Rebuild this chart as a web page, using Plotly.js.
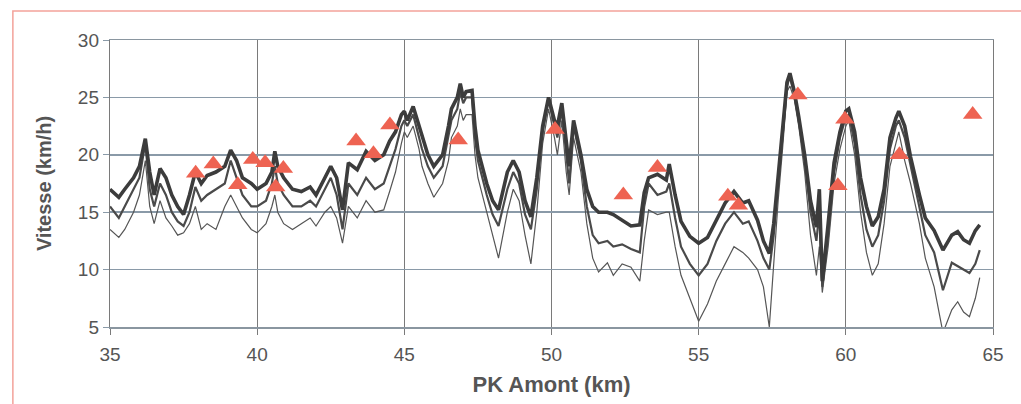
<!DOCTYPE html>
<html>
<head>
<meta charset="utf-8">
<script src="https://cdn.plot.ly/plotly-3.0.1.min.js"></script>
<style>html,body{margin:0;padding:0;background:#fff;}#chart{width:1021px;height:404px;}</style>
</head>
<body>
<div id="chart"></div>
<script>
// PK Amont (km)
const pk = [
  35.0,35.3,35.5,35.8,36.0,36.2,36.35,36.5,36.7,36.9,
  37.1,37.3,37.5,37.7,37.9,38.1,38.3,38.6,38.9,39.1,
  39.3,39.5,39.8,40.0,40.3,40.5,40.6,40.7,40.9,41.2,
  41.5,41.8,42.0,42.3,42.5,42.7,42.9,43.1,43.4,43.7,
  44.0,44.3,44.5,44.7,44.9,45.0,45.1,45.3,45.5,45.6,
  45.8,46.0,46.3,46.5,46.6,46.8,46.9,47.0,47.1,47.3,
  47.4,47.5,47.8,48.0,48.2,48.5,48.7,48.9,49.1,49.3,
  49.5,49.7,49.9,50.1,50.2,50.35,50.5,50.6,50.75,51.0,
  51.2,51.4,51.6,51.9,52.1,52.4,52.7,53.0,53.15,53.3,
  53.6,53.9,54.0,54.2,54.4,54.7,55.0,55.3,55.6,55.9,
  56.2,56.5,56.7,57.0,57.2,57.4,57.55,57.7,57.85,58.0,
  58.1,58.25,58.4,58.6,58.8,59.0,59.1,59.2,59.4,59.6,
  59.8,60.0,60.1,60.3,60.5,60.7,60.9,61.1,61.3,61.5,
  61.7,61.8,62.0,62.2,62.5,62.7,63.0,63.3,63.6,63.8,
  64.0,64.2,64.4,64.55
];
// Vitesse (km/h) - thick upper curve
const vitesseHaute = [
  17.0,16.3,17.0,18.0,19.0,21.4,18.5,16.5,18.8,18.0,
  16.5,15.5,14.8,16.5,18.5,17.5,18.2,18.5,19.0,20.4,
  19.5,18.0,17.5,17.0,17.5,18.5,20.3,19.0,18.0,17.0,
  16.8,17.2,16.5,18.0,19.0,18.0,15.2,19.3,18.7,20.3,
  19.5,20.0,21.2,22.0,23.5,23.8,23.0,24.2,22.5,21.5,
  20.0,19.0,20.0,22.5,24.0,25.0,26.2,25.0,25.5,25.6,
  22.5,20.4,17.5,16.0,15.2,18.5,19.5,18.5,16.0,14.6,
  18.0,22.5,25.0,23.0,22.5,24.5,21.0,19.0,23.0,20.0,
  17.0,15.5,15.0,15.0,14.8,14.3,13.8,13.9,16.7,18.0,
  18.3,17.8,19.2,16.5,14.2,12.9,12.3,12.8,14.3,15.8,
  16.8,15.8,16.0,14.3,12.5,11.4,14.0,18.0,22.0,26.3,
  27.1,25.5,23.3,20.0,16.0,13.7,17.0,9.0,14.0,19.3,
  22.0,23.8,24.0,22.0,18.0,15.5,13.8,14.6,17.0,21.5,
  23.2,23.8,22.5,19.8,16.5,14.5,13.4,11.7,13.0,13.3,
  12.6,12.3,13.4,13.9
];
// Vitesse (km/h) - middle curve
const vitesseMoyenne = [
  15.5,14.5,15.5,17.0,18.0,21.0,17.0,15.5,17.5,16.5,
  15.0,14.2,13.8,15.0,17.2,16.0,16.5,17.0,17.5,19.5,
  18.0,16.5,15.5,15.5,16.0,17.5,19.0,17.5,16.5,15.5,
  15.5,16.0,15.5,17.0,18.0,16.5,13.5,17.5,16.5,18.0,
  17.0,17.5,19.0,20.5,22.5,23.0,22.5,23.5,21.5,20.5,
  19.0,18.0,19.0,21.5,23.0,24.0,25.5,24.5,25.0,25.0,
  21.5,19.5,16.5,14.8,13.8,17.0,18.5,17.5,14.8,13.5,
  17.0,22.0,24.8,22.5,21.5,24.0,20.0,17.5,22.5,19.5,
  15.5,13.0,12.3,12.5,12.0,12.2,11.8,11.5,15.5,17.5,
  16.5,16.8,17.5,14.5,12.0,10.5,9.5,10.5,12.5,14.0,
  15.0,14.0,14.2,12.5,11.0,10.0,13.0,17.5,21.5,26.0,
  26.8,25.3,23.0,19.5,15.0,12.5,15.0,8.5,13.0,18.5,
  21.5,23.3,23.5,21.0,16.5,13.5,12.0,13.0,16.0,20.5,
  22.5,23.0,21.5,19.0,15.5,13.0,11.5,8.2,10.6,10.3,
  10.0,9.7,10.5,11.7
];
// Vitesse (km/h) - thin lower curve
const vitesseBasse = [
  13.5,12.8,13.5,15.0,16.5,19.5,15.5,14.0,16.0,14.5,
  13.8,13.0,13.2,14.0,15.5,13.5,14.0,13.5,15.5,16.5,
  15.5,14.5,13.5,13.2,14.0,15.5,16.5,15.0,14.0,13.5,
  14.0,14.5,13.8,15.0,15.5,14.5,12.3,15.5,14.5,16.0,
  15.0,15.2,16.8,18.5,21.0,22.0,21.5,22.5,20.5,19.0,
  17.5,16.3,17.5,19.5,21.5,22.5,24.0,23.0,23.5,23.5,
  20.0,18.0,15.0,13.0,11.0,15.0,17.0,16.0,13.0,10.5,
  15.0,21.0,24.0,21.5,20.0,23.0,18.5,16.5,21.5,18.5,
  14.0,11.0,9.8,10.6,9.5,10.5,10.2,9.0,12.5,15.2,
  14.8,15.0,15.0,12.0,9.5,7.5,5.5,7.0,9.0,10.5,
  12.0,11.5,11.0,10.0,8.5,5.0,11.0,16.0,20.5,25.5,
  26.0,24.8,22.5,18.5,13.0,9.5,12.0,8.0,12.0,17.5,
  20.5,22.5,23.0,20.0,15.0,11.5,9.5,10.5,14.0,19.0,
  21.0,22.0,19.5,17.5,14.0,11.0,8.5,4.5,6.5,7.2,
  6.3,5.9,7.5,9.3
];
// Measured points (triangles)
const mesurePK = [37.91,38.51,39.34,39.85,40.27,40.89,40.63,43.36,43.95,44.51,46.83,50.12,52.44,53.60,55.99,56.35,58.37,59.97,59.73,61.82,64.31];
const mesureV  = [18.4,19.2,17.4,19.6,19.3,18.8,17.2,21.2,20.1,22.6,21.3,22.2,16.5,18.9,16.4,15.6,25.2,23.1,17.3,20.0,23.5];

const FONT = 'Liberation Sans, Arial, sans-serif';
const traces = [
  {x: pk, y: vitesseBasse, mode: 'lines', line: {color: '#555555', width: 1.2}, hoverinfo: 'skip'},
  {x: pk, y: vitesseMoyenne, mode: 'lines', line: {color: '#4a4a4a', width: 2.2}, hoverinfo: 'skip'},
  {x: pk, y: vitesseHaute, mode: 'lines', line: {color: '#3c3c3c', width: 3.6}, hoverinfo: 'skip'},
  {x: mesurePK, y: mesureV, mode: 'markers', marker: {symbol: 'triangle-up', size: 17, color: '#ee6352', line: {width: 0}}}
];
const layout = {
  width: 1021, height: 404,
  margin: {l: 110, r: 28, t: 40, b: 77},
  paper_bgcolor: '#ffffff', plot_bgcolor: '#ffffff',
  showlegend: false,
  font: {family: FONT, color: '#555555', size: 19},
  xaxis: {
    range: [35, 65], tickvals: [35, 40, 45, 50, 55, 60, 65], ticktext: ['35','40','45','50','55','60','65'],
    showgrid: true, gridcolor: '#7a7a7a', gridwidth: 1.2, zeroline: false,
    showline: true, linecolor: '#8a96a0', linewidth: 1.5, mirror: true,
    ticks: 'outside', ticklen: 6, tickcolor: '#7a7a7a', ticklabelstandoff: 4,
    tickfont: {size: 19, color: '#555555', family: FONT},
    title: {text: 'PK Amont (km)', font: {size: 22, color: '#555555', family: FONT, weight: 'bold'}, standoff: 12}
  },
  yaxis: {
    range: [5, 30], tickvals: [5, 10, 15, 20, 25, 30], ticktext: ['5','10','15','20','25','30'],
    showgrid: true, gridcolor: '#8a9aa8', gridwidth: 1.5, zeroline: false,
    showline: true, linecolor: '#7a7a7a', linewidth: 1.2, mirror: true,
    ticks: 'outside', ticklen: 6, tickcolor: '#8a9aa8', tickfont: {size: 19, color: '#555555', family: FONT},
    title: {text: 'Vitesse (km/h)', font: {size: 20, color: '#555555', family: FONT, weight: 'bold'}, standoff: 20}
  },
  shapes: [
    {type: 'rect', xref: 'paper', yref: 'paper', x0: -0.110, x1: 1.06, y0: -0.40, y1: 1.101,
     line: {color: '#f3a29a', width: 1.5}, fillcolor: 'rgba(0,0,0,0)', layer: 'below'}
  ]
};
Plotly.newPlot('chart', traces, layout, {staticPlot: true, displayModeBar: false});
</script>
</body>
</html>
